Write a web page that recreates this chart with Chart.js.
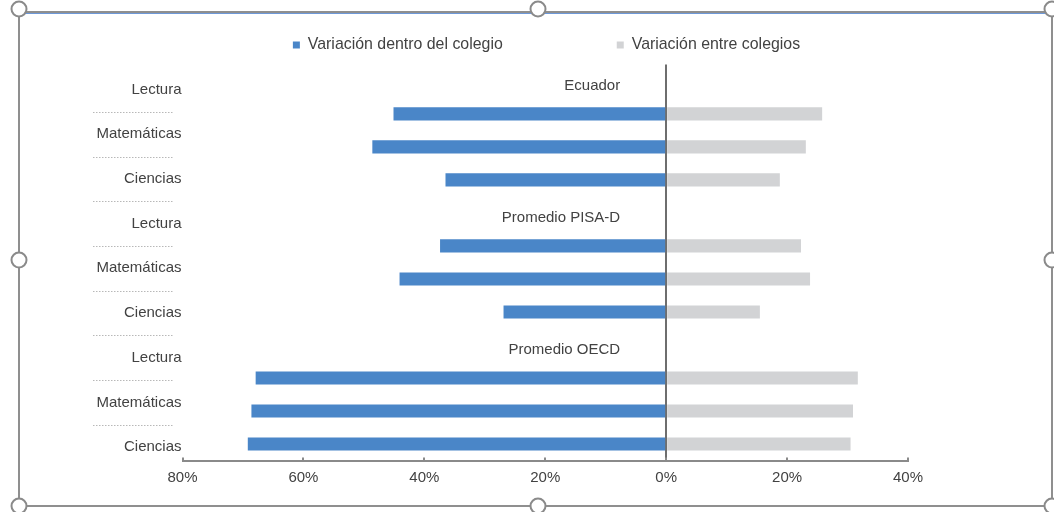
<!DOCTYPE html>
<html>
<head>
<meta charset="utf-8">
<script src="https://cdn.jsdelivr.net/npm/chart.js@4.4.1/dist/chart.umd.min.js"></script>
<style>
html,body{margin:0;padding:0;background:#fff;}
#wrap{position:relative;width:1054px;height:512px;overflow:hidden;background:#fff;}
#c{position:absolute;left:0;top:0;}
.frame{position:absolute;left:18px;top:11px;width:1035px;height:496px;border:2px solid #8f8f8f;box-sizing:border-box;pointer-events:none;box-shadow:inset 0 1px 0 #6d98d8;}
.h{position:absolute;width:17px;height:17px;border-radius:50%;border:2px solid #8a8a8a;background:#fff;box-sizing:border-box;transform:translate(-50%,-50%);}
</style>
</head>
<body>
<div id="wrap">
<canvas id="c" width="1054" height="512"></canvas>
<div class="frame"></div>
<div class="h" style="left:19px;top:9px"></div>
<div class="h" style="left:538px;top:9px"></div>
<div class="h" style="left:1052px;top:9px"></div>
<div class="h" style="left:19px;top:260px"></div>
<div class="h" style="left:1052px;top:260px"></div>
<div class="h" style="left:19px;top:506px"></div>
<div class="h" style="left:538px;top:506px"></div>
<div class="h" style="left:1052px;top:506px"></div>
</div>
<script>
// ---- data ----
const groups = ['Ecuador', 'Promedio PISA-D', 'Promedio OECD'];
const subjects = ['Lectura', 'Matemáticas', 'Ciencias'];
const seriesNames = ['Variación dentro del colegio', 'Variación entre colegios'];
// within-school variation (plotted to the left, as negative values)
const withinSchool = [-45.1, -48.6, -36.5, -37.4, -44.1, -26.9, -67.9, -68.6, -69.2];
// between-school variation
const betweenSchools = [25.8, 23.1, 18.8, 22.3, 23.8, 15.5, 31.7, 30.9, 30.5];
const xTickValues = [-80, -60, -40, -20, 0, 20, 40];

// ---- build rows: a title row per group, then one row per subject ----
const rowLabels = [], rowWithin = [], rowBetween = [], titleRows = [], leftLabels = [];
groups.forEach((g, gi) => {
  titleRows.push(rowLabels.length);
  rowLabels.push(g); rowWithin.push(null); rowBetween.push(null);
  subjects.forEach((s, si) => {
    rowLabels.push(s);
    rowWithin.push(withinSchool[gi * subjects.length + si]);
    rowBetween.push(betweenSchools[gi * subjects.length + si]);
    leftLabels.push(s);
  });
});

const FONT = '"Liberation Sans", Arial, sans-serif';
const TXT = '#424242';
const YL_MIN = -0.06, YL_MAX = 8.8;

const annot = {
  id: 'annot',
  afterDraw(chart) {
    const {ctx} = chart;
    const x = chart.scales.x, y = chart.scales.y, yl = chart.scales.yl;
    ctx.save();
    ctx.font = '15px ' + FONT;
    ctx.fillStyle = TXT;
    ctx.textAlign = 'right';
    ctx.textBaseline = 'middle';
    titleRows.forEach(i => {
      ctx.fillText(rowLabels[i], x.getPixelForValue(0) - 46, y.getPixelForValue(i) + 5);
    });
    ctx.strokeStyle = '#b8b8b8';
    ctx.lineWidth = 1;
    ctx.setLineDash([1.5, 1.5]);
    for (let k = 1; k < leftLabels.length; k++) {
      const py = Math.round(yl.getPixelForValue(k)) + 0.5;
      ctx.beginPath();
      ctx.moveTo(yl.right - 89.5, py);
      ctx.lineTo(yl.right - 9.5, py);
      ctx.stroke();
    }
    ctx.restore();
  }
};

new Chart(document.getElementById('c'), {
  type: 'bar',
  data: {
    labels: rowLabels,
    datasets: [
      {label: seriesNames[0], data: rowWithin, backgroundColor: '#4a86c8', barPercentage: 0.4, categoryPercentage: 1},
      {label: seriesNames[1], data: rowBetween, backgroundColor: '#d2d3d5', barPercentage: 0.4, categoryPercentage: 1}
    ]
  },
  options: {
    indexAxis: 'y',
    responsive: false,
    animation: false,
    layout: {padding: {top: -76.95, left: 39, right: 0, bottom: 0}},
    plugins: {
      legend: {
        position: 'top',
        labels: {boxWidth: 7, boxHeight: 7, padding: 114, color: TXT, font: {size: 15.9, family: FONT}}
      },
      tooltip: {enabled: false}
    },
    scales: {
      x: {
        type: 'linear', min: -80, max: 40, stacked: true,
        afterBuildTicks: s => { s.ticks = xTickValues.map(v => ({value: v})); },
        afterFit: s => { s.height = 51.5; },
        ticks: {callback: v => Math.abs(v) + '%', color: TXT, font: {size: 15, family: FONT}, padding: 11, maxRotation: 0},
        grid: {
          color: c => (c.tick && c.tick.value === 0) ? '#6e6e6e' : 'rgba(0,0,0,0)',
          lineWidth: 2, tickColor: '#8a8a8a', tickLength: -3, drawTicks: true
        },
        border: {color: '#8a8a8a', width: 2}
      },
      xTop: {
        type: 'linear', position: 'top', min: 0, max: 1,
        afterFit: s => { s.height = 1.5; },
        ticks: {display: false},
        grid: {display: false},
        border: {display: false}
      },
      y: {
        type: 'category', stacked: true, display: false
      },
      yl: {
        type: 'linear', position: 'left', min: YL_MIN, max: YL_MAX, reverse: true, bounds: 'data', offset: false,
        afterBuildTicks: s => {
          s.ticks = leftLabels.map((_, i) => ({value: i + 0.5}));
          s.min = YL_MIN; s.max = YL_MAX;
        },
        afterFit: s => { s.width = 143.5; },
        ticks: {callback: (v, i) => leftLabels[i], color: TXT, font: {size: 15, family: FONT}, padding: 1, autoSkip: false},
        grid: {display: false, drawTicks: false, offset: false},
        border: {display: false}
      },
      yr: {
        type: 'linear', position: 'right', min: 0, max: 1, offset: false,
        afterFit: s => { s.width = 146; },
        ticks: {display: false},
        grid: {display: false},
        border: {display: false}
      }
    }
  },
  plugins: [annot]
});
</script>
</body>
</html>
